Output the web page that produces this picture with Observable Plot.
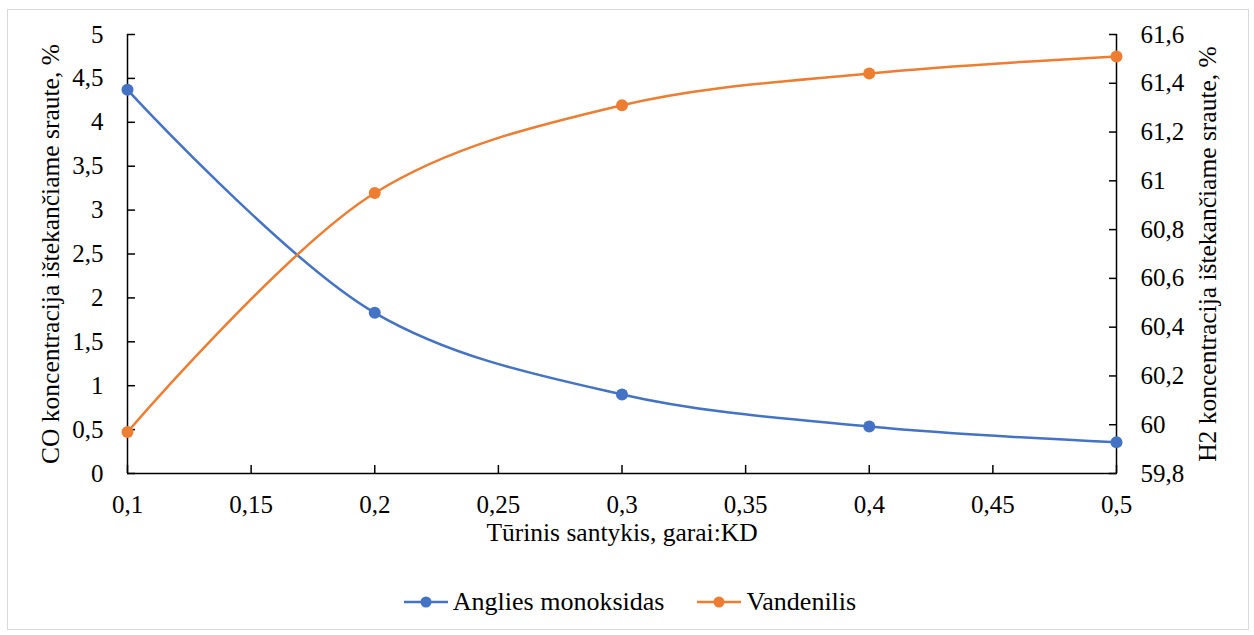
<!DOCTYPE html>
<html>
<head>
<meta charset="utf-8">
<script src="https://cdn.jsdelivr.net/npm/d3@7"></script>
<script src="https://cdn.jsdelivr.net/npm/@observablehq/plot@0.6"></script>
<style>
  html, body { margin: 0; padding: 0; background: #fff; }
  #wrap { position: relative; width: 1254px; height: 635px; overflow: hidden; font-family: "Liberation Serif", "Times New Roman", serif; }
  #border { position: absolute; left: 7px; top: 9px; width: 1240px; height: 619px; border: 1.5px solid #d9d9d9; }
  #chart { position: absolute; left: 0; top: 0; }
  #legend { position: absolute; left: 0; top: 587px; width: 1254px; display: flex; justify-content: center; gap: 33px; font-size: 26px; color: #000; }
  .item { display: flex; align-items: center; gap: 5px; transform: translateX(3px); }
</style>
</head>
<body>
<div id="wrap">
  <div id="border"></div>
  <div id="chart"></div>
  <div id="legend"></div>
</div>
<script>
const ratios = [0.1, 0.2, 0.3, 0.4, 0.5];
const coValues = [4.37, 1.83, 0.90, 0.535, 0.355];
const h2Values = [59.97, 60.95, 61.31, 61.44, 61.51];
const seriesNames = ["Anglies monoksidas", "Vandenilis"];
const seriesColors = ["#4472C4", "#ED7D31"];
const xTicks = [0.1, 0.15, 0.2, 0.25, 0.3, 0.35, 0.4, 0.45, 0.5];
const xTickLabels = ["0,1", "0,15", "0,2", "0,25", "0,3", "0,35", "0,4", "0,45", "0,5"];
const leftTicks = [0, 0.5, 1, 1.5, 2, 2.5, 3, 3.5, 4, 4.5, 5];
const leftTickLabels = ["0", "0,5", "1", "1,5", "2", "2,5", "3", "3,5", "4", "4,5", "5"];
const rightTicks = [59.8, 60, 60.2, 60.4, 60.6, 60.8, 61, 61.2, 61.4, 61.6];
const rightTickLabels = ["59,8", "60", "60,2", "60,4", "60,6", "60,8", "61", "61,2", "61,4", "61,6"];
const xTitle = "Tūrinis santykis, garai:KD";
const leftTitle = "CO koncentracija ištekančiame sraute, %";
const rightTitle = "H2 koncentracija ištekančiame sraute, %";

const leftDomain = [0, 5];
const rightDomain = [59.8, 61.6];
const toLeft = v => (v - rightDomain[0]) / (rightDomain[1] - rightDomain[0]) * (leftDomain[1] - leftDomain[0]) + leftDomain[0];

const co = ratios.map((x, i) => ({x, y: coValues[i]}));
const h2 = ratios.map((x, i) => ({x, y: toLeft(h2Values[i])}));
const rightPos = rightTicks.map(toLeft);

const FS = 25;
const TFS = 25.5;
const chart = Plot.plot({
  width: 1254,
  height: 560,
  marginLeft: 127,
  marginRight: 138,
  marginTop: 34,
  marginBottom: 87,
  style: {fontFamily: "'Liberation Serif', 'Times New Roman', serif", color: "#000", background: "transparent"},
  x: {domain: [0.1, 0.5]},
  y: {domain: leftDomain},
  marks: [
    Plot.axisX({anchor: "bottom", ticks: xTicks, tickSize: 0, tickPadding: 22, fontSize: FS, tickFormat: (d, i) => xTickLabels[i], label: null}),
    Plot.axisX({anchor: "bottom", ticks: xTicks, tickSize: 8, dy: -8, fill: "none", stroke: "#000", strokeWidth: 1.5, label: null}),
    Plot.axisY({anchor: "left", ticks: leftTicks, tickSize: 0, tickPadding: 24, fontSize: FS, tickFormat: (d, i) => leftTickLabels[i], label: null}),
    Plot.axisY({anchor: "left", ticks: leftTicks, tickSize: 8, dx: 8, fill: "none", stroke: "#000", strokeWidth: 1.5, label: null}),
    Plot.axisY(rightPos, {anchor: "right", tickSize: 0, tickPadding: 24, fontSize: FS, tickFormat: (d, i) => rightTickLabels[i], label: null}),
    Plot.axisY(rightPos, {anchor: "right", tickSize: 8, dx: -8, fill: "none", stroke: "#000", strokeWidth: 1.5, label: null}),
    Plot.ruleX([0.1, 0.5], {stroke: "#000", strokeWidth: 1.5}),
    Plot.ruleY([0], {stroke: "#000", strokeWidth: 1.5}),
    Plot.line(co, {x: "x", y: "y", stroke: seriesColors[0], strokeWidth: 2.5, curve: "catmull-rom"}),
    Plot.line(h2, {x: "x", y: "y", stroke: seriesColors[1], strokeWidth: 2.5, curve: "catmull-rom"}),
    Plot.dot(co, {x: "x", y: "y", r: 6, fill: seriesColors[0]}),
    Plot.dot(h2, {x: "x", y: "y", r: 6, fill: seriesColors[1]}),
    Plot.text([xTitle], {frameAnchor: "bottom", dy: 67, text: d => d, fontSize: TFS, fill: "#000", textAnchor: "middle"}),
    Plot.text([leftTitle], {frameAnchor: "left", dx: -77, rotate: -90, text: d => d, fontSize: TFS, fill: "#000", textAnchor: "middle"}),
    Plot.text([rightTitle], {frameAnchor: "right", dx: 91, rotate: -90, text: d => d, fontSize: TFS, fill: "#000", textAnchor: "middle"})
  ]
});
document.getElementById("chart").appendChild(chart);

const legend = document.getElementById("legend");
seriesNames.forEach((name, i) => {
  const item = document.createElement("div");
  item.className = "item";
  item.innerHTML = `<svg width="44" height="14"><line x1="0" y1="7" x2="44" y2="7" stroke="${seriesColors[i]}" stroke-width="2.5"/><circle cx="22" cy="7" r="5.5" fill="${seriesColors[i]}"/></svg><span>${name}</span>`;
  legend.appendChild(item);
});
</script>
</body>
</html>
